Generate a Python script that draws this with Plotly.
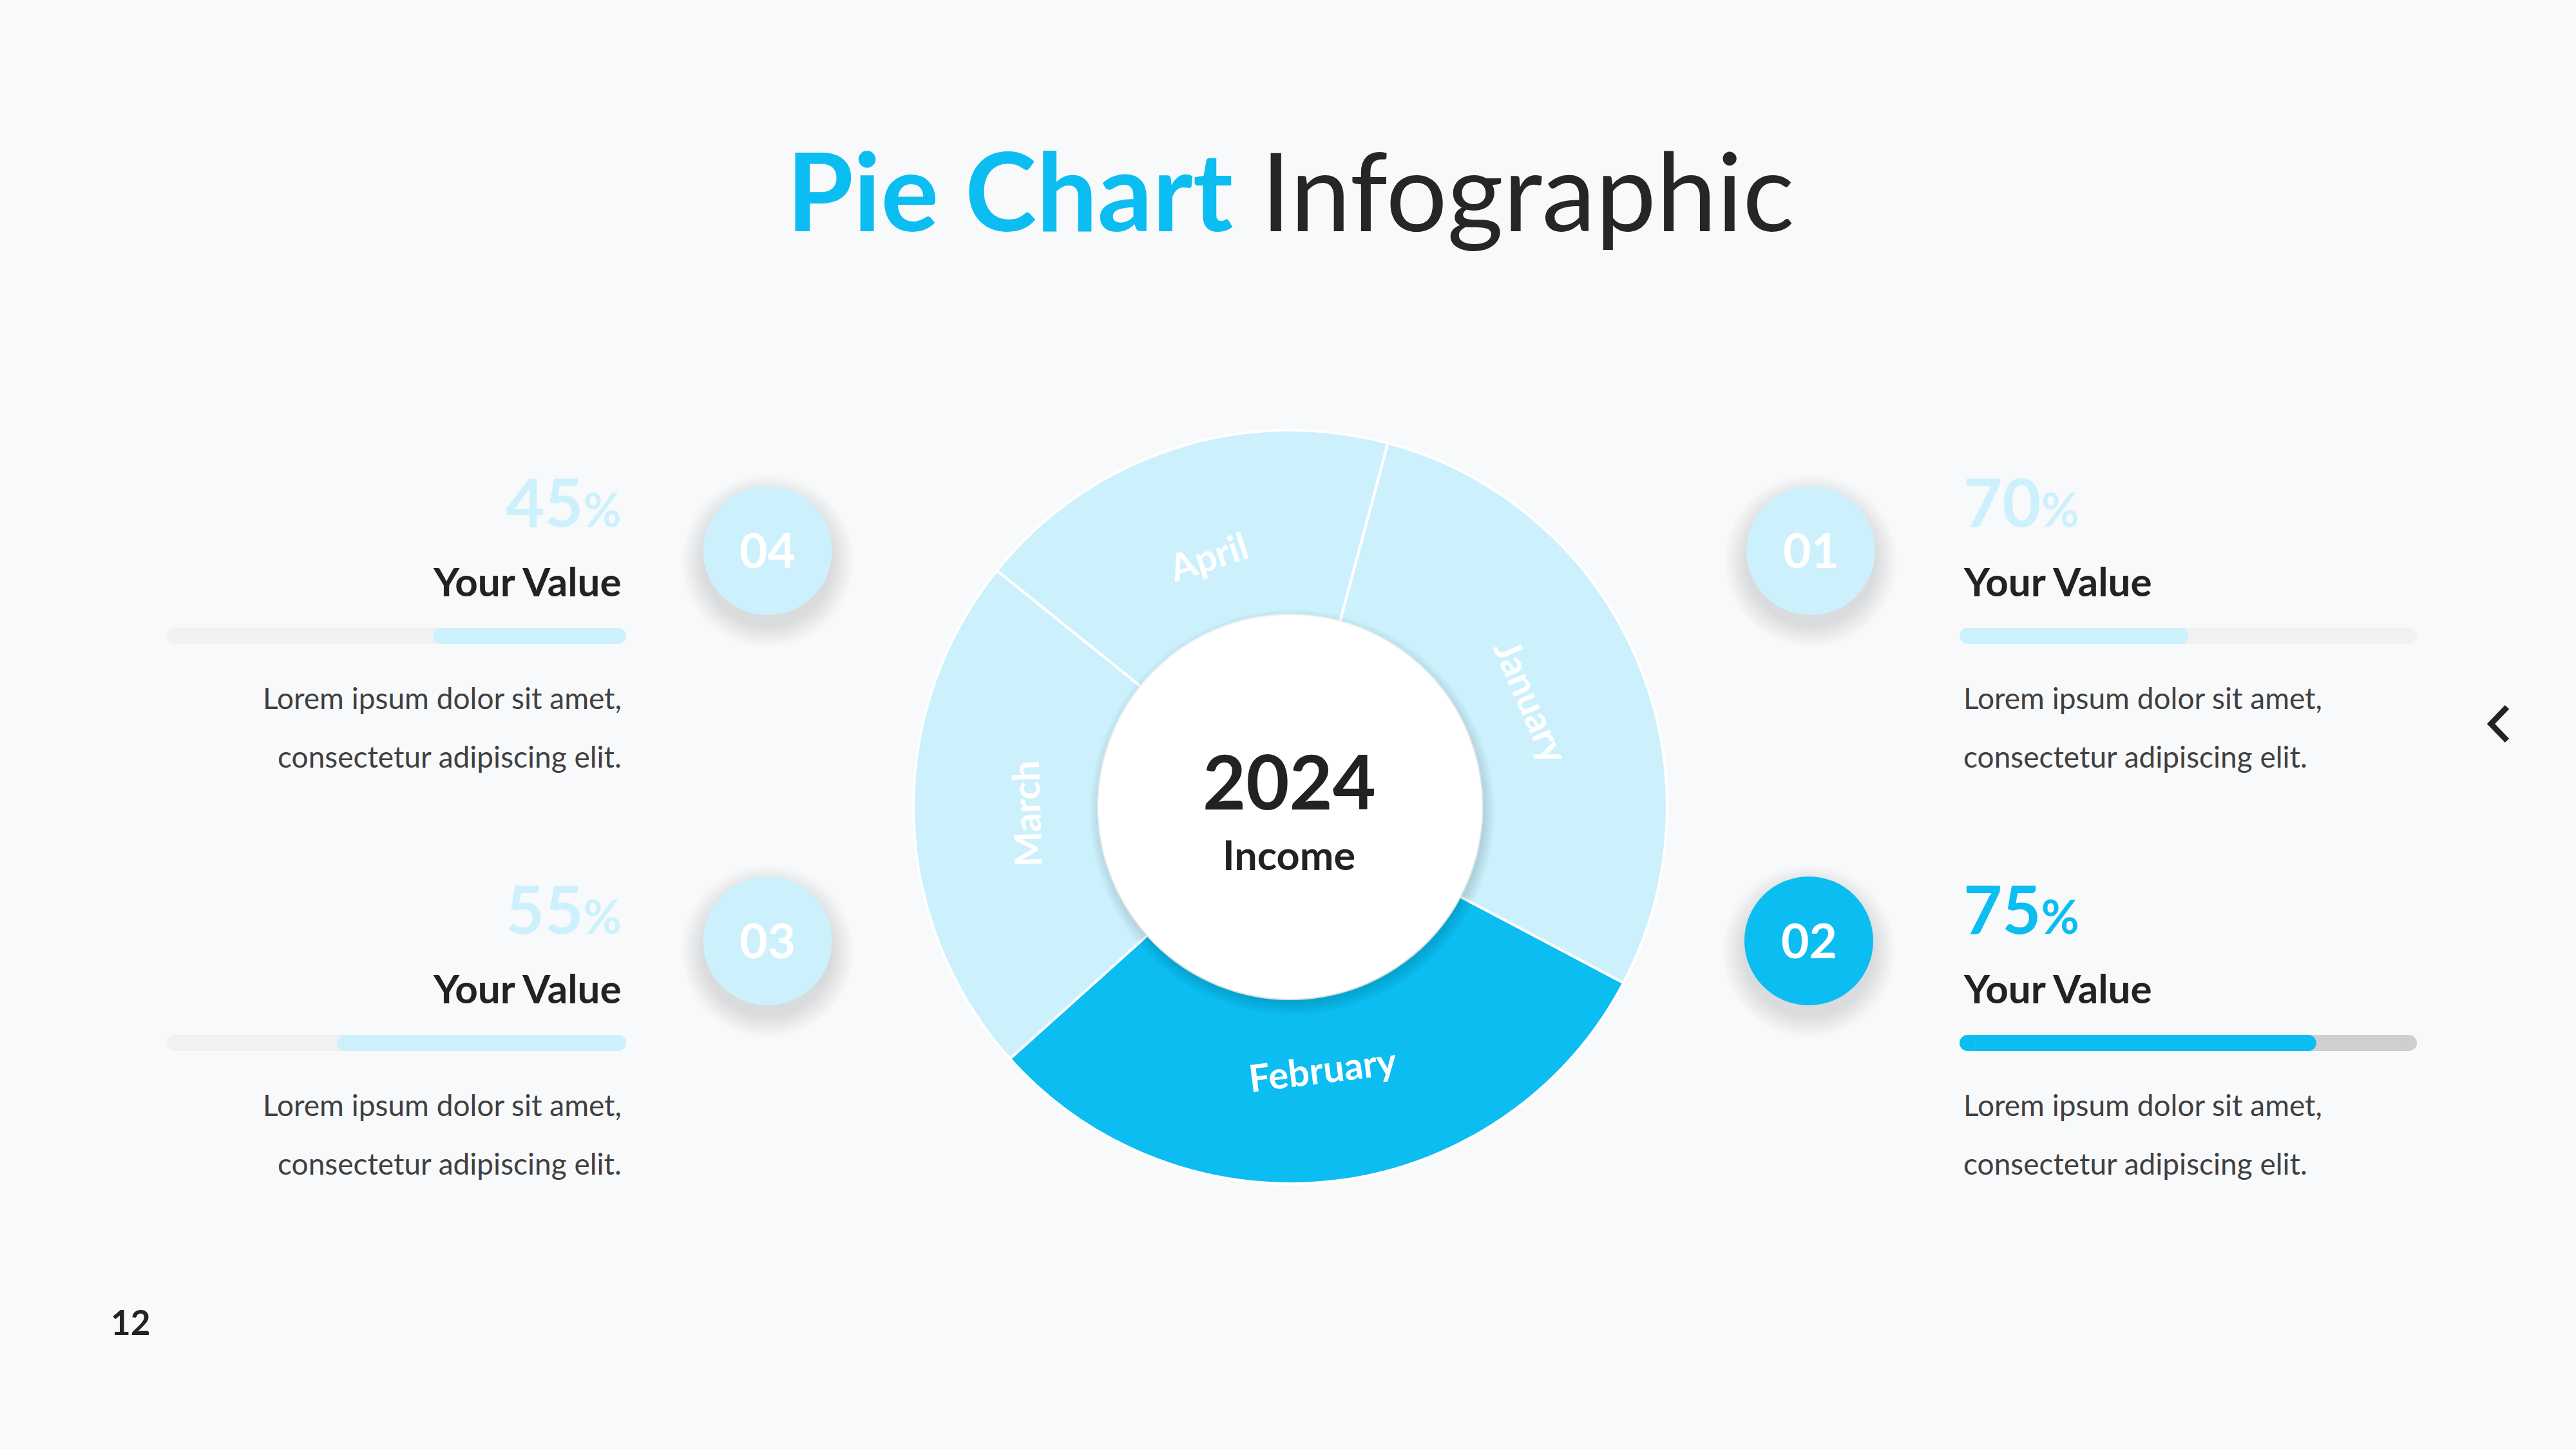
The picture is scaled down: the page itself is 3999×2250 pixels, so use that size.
import math
import plotly.graph_objects as go

# ---------------- data ----------------
months = ["January", "February", "March", "April"]
income_values = [70, 75, 55, 45]
badge_labels = ["01", "02", "03", "04"]
pct_labels = [70, 75, 55, 45]
bar_fill = [0.50, 0.78, 0.63, 0.42]   # progress-bar fill
highlight = 1                          # February / 02 is highlighted

# ---------------- style ----------------
W, H = 3999, 2250
FONT = "Lato"
BLUE = "#0BBDF0"
LIGHT = "#CDF1FC"
TRACK = "#F1F1F2"
TRACK_HI = "#CFCFCF"
DARK = "#222222"
GREY = "#404040"
BG = "#F8F9FB"

card_pos = [("right", 0), ("right", 1), ("left", 1), ("left", 0)]
ROW_DY = 632
BADGE_DY = 606
LEFT_EDGE_R = 967
RIGHT_EDGE_L = 3046
TRACK_L = (259, 972)
TRACK_R = (3042, 3752)
BAR_Y0 = 987.5
BAR_T = 25
BADGE_L = (1191.5, 855)
BADGE_R = (2811, 855)
BADGE_RAD = 100

PIE_C = (2003, 1253)
PIE_R = 585
HOLE_R = 298
PIE_ROT = 15
LABEL_R = 410

fig = go.Figure()


def rounded_bar(x0, x1, yc, color):
    h = BAR_T / 2.0
    fig.add_trace(go.Bar(
        orientation="h", y=[yc], x=[(x1 - h) - (x0 + h)], base=[x0 + h], width=[BAR_T],
        marker=dict(color=color, line=dict(width=0)),
        hoverinfo="skip", showlegend=False))
    fig.add_trace(go.Scatter(
        x=[x0 + h, x1 - h], y=[yc, yc], mode="markers",
        marker=dict(size=BAR_T, color=color, line=dict(width=0)),
        hoverinfo="skip", showlegend=False))


shapes = []
annotations = []

for i, (side, row) in enumerate(card_pos):
    dy = row * ROW_DY
    bdy = row * BADGE_DY
    hi = (i == highlight)
    yc = BAR_Y0 + dy
    frac = bar_fill[i]
    if side == "left":
        t0, t1 = TRACK_L
        f0, f1 = t1 - frac * (t1 - t0), t1
        bx, by = BADGE_L[0], BADGE_L[1] + bdy
        tx, xanchor, align = LEFT_EDGE_R, "right", "right"
    else:
        t0, t1 = TRACK_R
        f0, f1 = t0, t0 + frac * (t1 - t0)
        bx, by = BADGE_R[0], BADGE_R[1] + bdy
        tx, xanchor, align = RIGHT_EDGE_L, "left", "left"
    if side == "right" and row == 1:
        bx -= 3
    rounded_bar(t0, t1, yc, TRACK_HI if hi else TRACK)
    rounded_bar(f0, f1, yc, BLUE if hi else LIGHT)

    # badge soft shadow + badge
    for k in range(10):
        rr = BADGE_RAD + 2 + k * 3.5
        shapes.append(dict(type="circle", xref="x", yref="y", layer="below",
                           x0=bx - rr, x1=bx + rr, y0=by + 16 - rr, y1=by + 16 + rr,
                           fillcolor="rgba(0,0,0,0.012)", line=dict(width=0)))
    shapes.append(dict(type="circle", xref="x", yref="y", layer="below",
                       x0=bx - BADGE_RAD, x1=bx + BADGE_RAD,
                       y0=by - BADGE_RAD, y1=by + BADGE_RAD,
                       fillcolor=BLUE if hi else LIGHT, line=dict(width=0)))
    annotations.append(dict(x=bx, y=by - 2, xref="x", yref="y", showarrow=False,
                            xanchor="center", yanchor="middle",
                            text=f"<b>{badge_labels[i]}</b>",
                            font=dict(family=FONT, size=75, color="white")))

    pcol = BLUE if hi else LIGHT
    annotations.append(dict(x=tx, y=777 + dy, xref="x", yref="y", showarrow=False,
                            xanchor=xanchor, yanchor="middle", align=align,
                            text=f"<b>{pct_labels[i]}<span style='font-size:72px'>%</span></b>",
                            font=dict(family=FONT, size=104, color=pcol)))
    annotations.append(dict(x=tx, y=901.5 + dy, xref="x", yref="y", showarrow=False,
                            xanchor=xanchor, yanchor="middle", align=align,
                            text="<b>Your Value</b>",
                            font=dict(family=FONT, size=62, color=DARK)))
    for j, line in enumerate(["Lorem ipsum dolor sit amet,", "consectetur adipiscing elit."]):
        annotations.append(dict(x=tx, y=1083 + 91.5 * j + dy, xref="x", yref="y",
                                showarrow=False, xanchor=xanchor, yanchor="middle",
                                align=align, text=line,
                                font=dict(family=FONT, size=46, color=GREY)))

# ---------------- donut ----------------
pie_colors = [BLUE if k == highlight else LIGHT for k in range(len(months))]
fig.add_trace(go.Pie(
    labels=months, values=income_values, textinfo="none",
    marker=dict(colors=pie_colors, line=dict(color="white", width=4)),
    hole=HOLE_R / PIE_R, sort=False, direction="clockwise", rotation=PIE_ROT,
    domain=dict(x=[(PIE_C[0] - PIE_R) / W, (PIE_C[0] + PIE_R) / W],
                y=[(H - PIE_C[1] - PIE_R) / H, (H - PIE_C[1] + PIE_R) / H]),
    hoverinfo="skip", showlegend=False))

# slice labels placed along each slice's mid-angle (derived from the values)
total = float(sum(income_values))
start = PIE_ROT
for k, (m, v) in enumerate(zip(months, income_values)):
    span = 360.0 * v / total
    mid = start + span / 2.0
    start += span
    a = math.radians(mid)
    rot = ((mid + 180) % 360) - 180
    if rot > 90:
        rot -= 180
    elif rot < -135:
        rot += 180
    annotations.append(dict(
        x=PIE_C[0] + LABEL_R * math.sin(a), y=PIE_C[1] - LABEL_R * math.cos(a),
        xref="x", yref="y", showarrow=False, xanchor="center", yanchor="middle",
        textangle=rot, text=f"<b>{m}</b>",
        font=dict(family=FONT, size=58, color="white")))

# white centre disc with soft shadow
for k in range(6):
    rr = HOLE_R + 1 + k * 3
    shapes.append(dict(type="circle", xref="x", yref="y", layer="above",
                       x0=PIE_C[0] + 3 - rr, x1=PIE_C[0] + 3 + rr,
                       y0=PIE_C[1] + 8 - rr, y1=PIE_C[1] + 8 + rr,
                       fillcolor="rgba(0,40,60,0.022)", line=dict(width=0)))
shapes.append(dict(type="circle", xref="x", yref="y", layer="above",
                   x0=PIE_C[0] - HOLE_R, x1=PIE_C[0] + HOLE_R,
                   y0=PIE_C[1] - HOLE_R, y1=PIE_C[1] + HOLE_R,
                   fillcolor="white", line=dict(width=0)))

# chevron
shapes.append(dict(type="path", xref="x", yref="y", layer="above",
                   path="M 3892,1098 L 3867,1124 L 3892,1150",
                   line=dict(color=DARK, width=9)))

annotations += [
    dict(x=2003, y=294, xref="x", yref="y", showarrow=False, xanchor="center",
         yanchor="middle",
         text=f"<b><span style='color:{BLUE}'>Pie Chart</span></b> Infographic",
         font=dict(family=FONT, size=168, color="#262626")),
    dict(x=2001, y=1212, xref="x", yref="y", showarrow=False, xanchor="center",
         yanchor="middle", text="<b>2024</b>",
         font=dict(family=FONT, size=116, color=DARK)),
    dict(x=2001, y=1326, xref="x", yref="y", showarrow=False, xanchor="center",
         yanchor="middle", text="<b>Income</b>",
         font=dict(family=FONT, size=63, color=DARK)),
    dict(x=170, y=2052, xref="x", yref="y", showarrow=False, xanchor="left",
         yanchor="middle", text="<b>12</b>",
         font=dict(family=FONT, size=53, color=DARK)),
]

fig.update_layout(
    width=W, height=H, margin=dict(l=0, r=0, t=0, b=0),
    paper_bgcolor=BG, plot_bgcolor=BG, barmode="overlay",
    xaxis=dict(range=[0, W], visible=False, fixedrange=True),
    yaxis=dict(range=[H, 0], visible=False, fixedrange=True),
    shapes=shapes, annotations=annotations, showlegend=False,
)

fig.write_html("out.html", config=dict(displayModeBar=False),
               post_script="document.body.style.margin='0';document.body.style.overflow='hidden';")
